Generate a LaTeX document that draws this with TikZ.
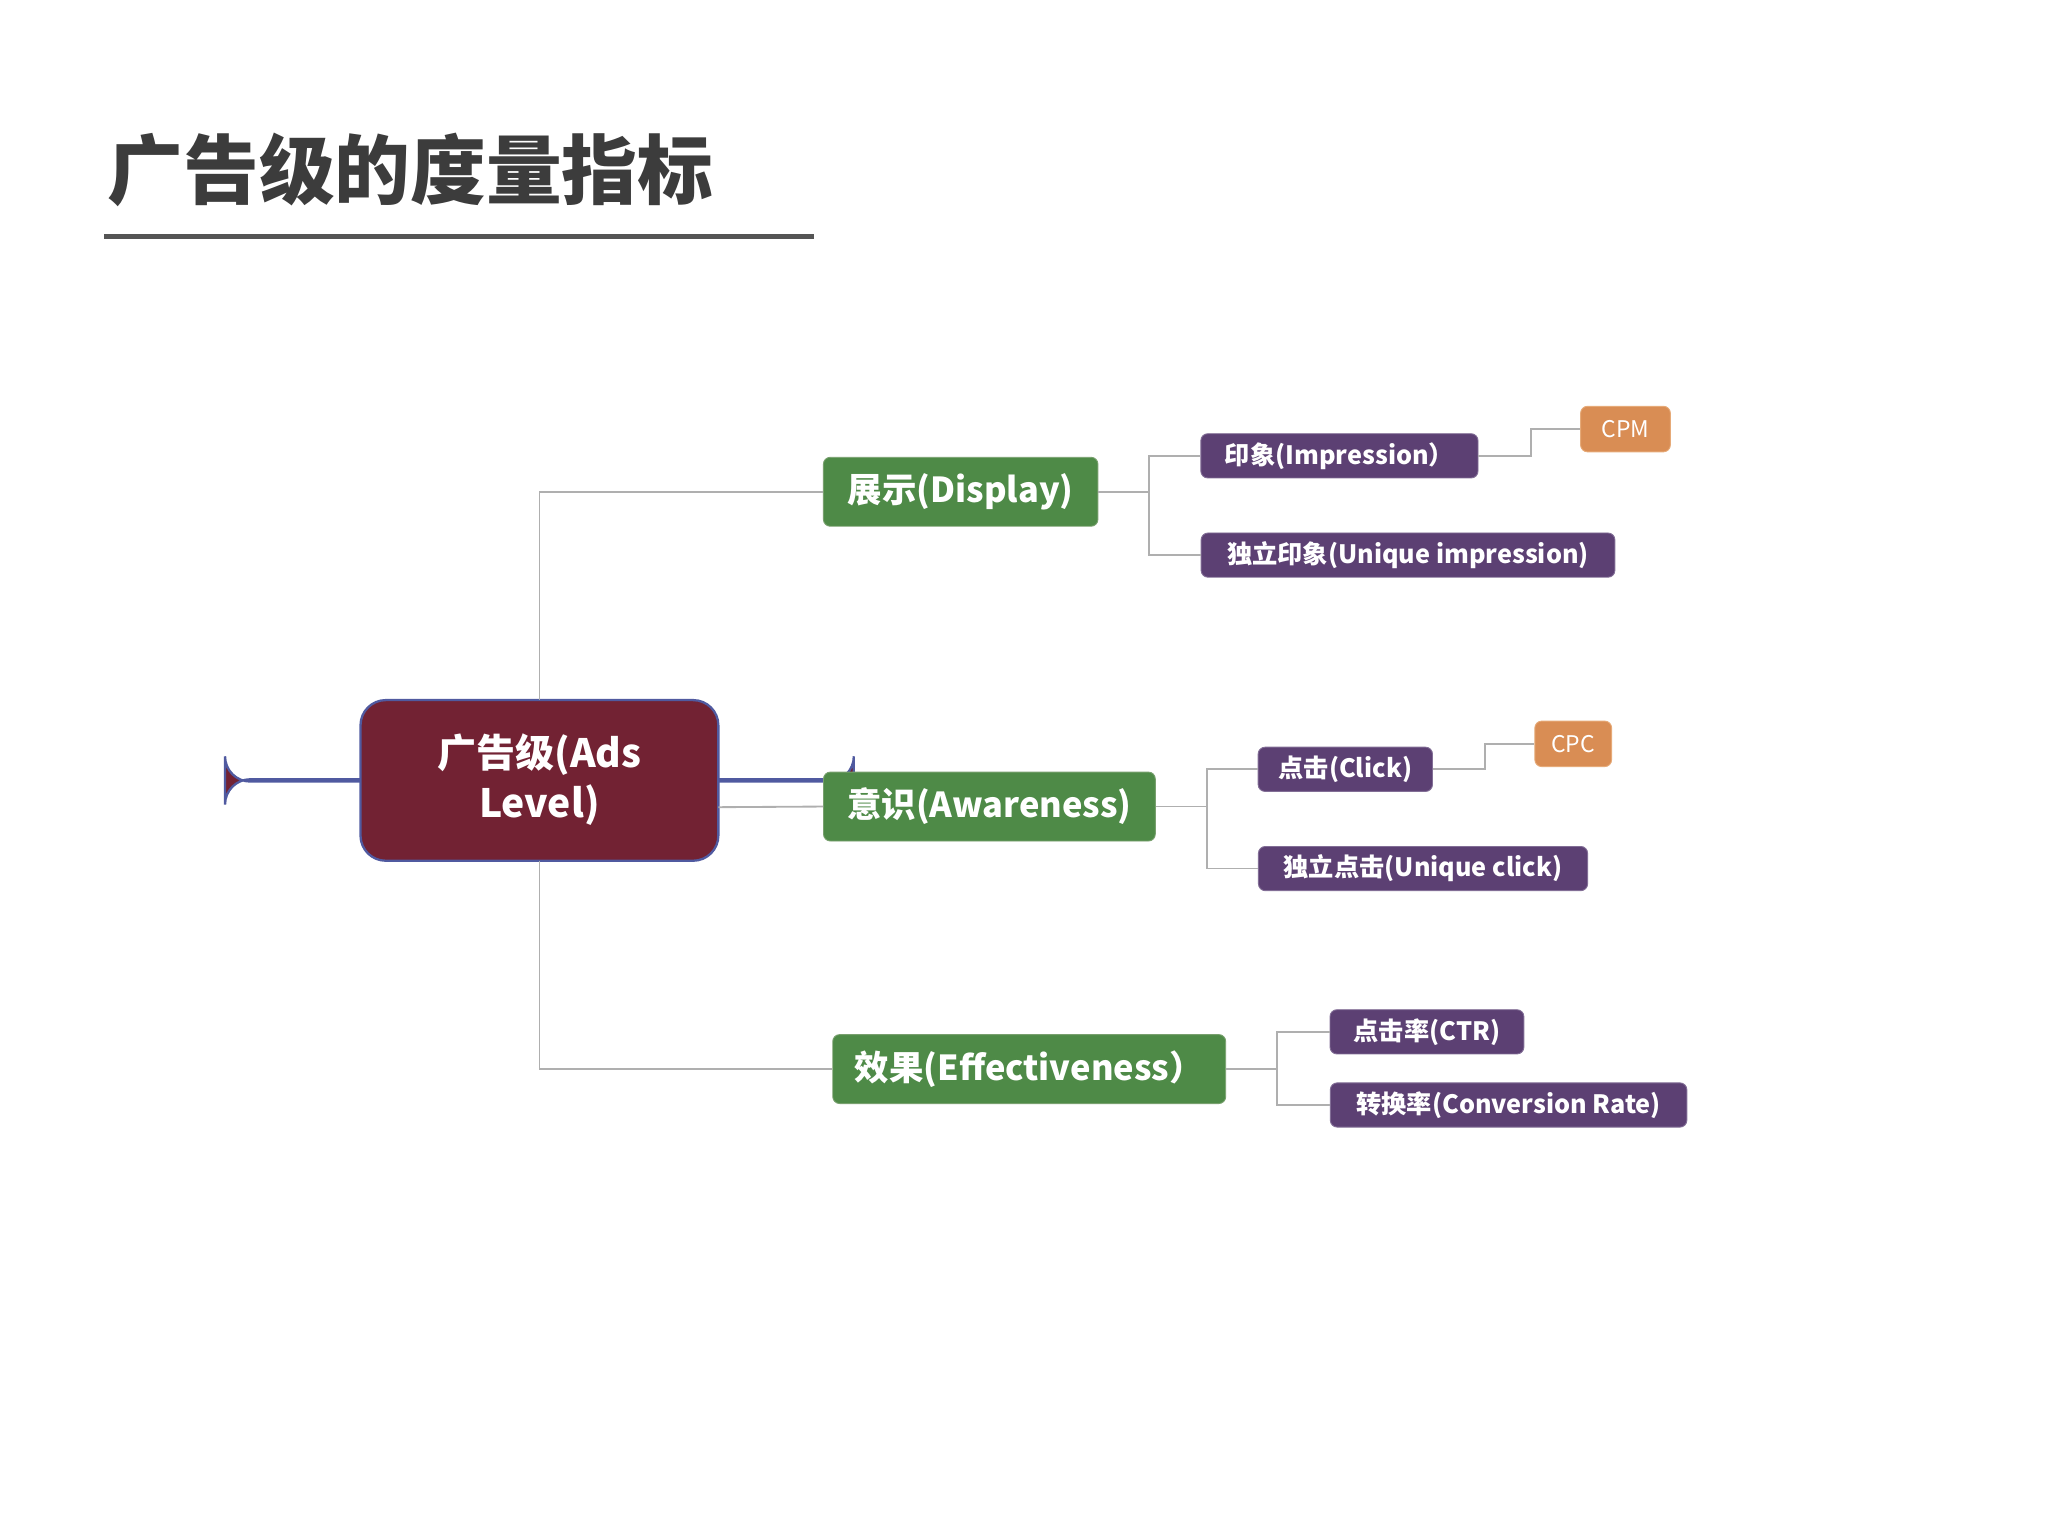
\documentclass[tikz,border=0pt]{standalone}
\usepackage{fontspec}
\setmainfont{Noto Sans CJK SC}
\begin{document}
\begin{tikzpicture}[x=0.02cm,y=-0.02cm,
  box/.style={rounded corners=3pt,text=white,inner sep=0pt,font=\bfseries},
  grn/.style={box,fill=green!40!black!70!white,fill={rgb,255:red,78;green,138;blue,71},draw={rgb,255:red,120;green,160;blue,110},font=\bfseries\fontsize{15}{18}\selectfont},
  pur/.style={box,fill={rgb,255:red,92;green,64;blue,115},draw={rgb,255:red,130;green,110;blue,150},font=\bfseries\fontsize{11}{13}\selectfont},
  org/.style={box,fill={rgb,255:red,217;green,141;blue,84},draw={rgb,255:red,230;green,170;blue,120},font=\fontsize{10}{12}\selectfont},
  ln/.style={draw={rgb,255:red,175;green,175;blue,175},line width=0.8pt}]
\useasboundingbox (0,0) rectangle (1568,1176);
\node[anchor=west,text={rgb,255:red,60;green,60;blue,60},font=\bfseries\fontsize{33}{40}\selectfont,inner sep=0pt] (title) at (82,130) {广告级的度量指标};
\draw[line width=2.3pt,draw={rgb,255:red,85;green,85;blue,85}] (80,181) -- (623,181);
\node[box,fill={rgb,255:red,114;green,34;blue,51},draw={rgb,255:red,80;green,90;blue,160},line width=1pt,rounded corners=11pt,minimum width=274\pgflinewidth,font=\bfseries\fontsize{17}{22}\selectfont,align=center] (root) at (413,597.5) {};
\path (276,536) coordinate (r1) (550,659) coordinate (r2);
\fill[rounded corners=11pt,fill={rgb,255:red,114;green,34;blue,51}] (r1) rectangle (r2);
\draw[rounded corners=11pt,draw={rgb,255:red,80;green,90;blue,160},line width=1pt] (r1) rectangle (r2);
\node[text=white,font=\bfseries\fontsize{17}{22}\selectfont,align=center] (rt) at (413,597) {广告级(Ads\\Level)};
\node[grn,minimum width=211*0.567pt,minimum height=53*0.567pt] (disp) at (735.5,376.5) {展示(Display)};
\node[grn,minimum width=255*0.567pt,minimum height=53*0.567pt] (awar) at (757.5,617.5) {意识(Awareness)};
\node[grn,minimum width=302*0.567pt,minimum height=53*0.567pt] (eff) at (788,818.5) {效果(Effectiveness）};
\node[pur,minimum width=213*0.567pt,minimum height=34*0.567pt] (imp) at (1025.5,349) {印象(Impression）};
\node[pur,minimum width=318*0.567pt,minimum height=34*0.567pt] (uimp) at (1078,425) {独立印象(Unique impression)};
\node[org,minimum width=69*0.567pt,minimum height=35*0.567pt] (cpm) at (1244.5,328.5) {CPM};
\node[pur,minimum width=134*0.567pt,minimum height=34*0.567pt] (click) at (1030,589) {点击(Click)};
\node[pur,minimum width=253*0.567pt,minimum height=34*0.567pt] (uclick) at (1089.5,665) {独立点击(Unique click)};
\node[org,minimum width=59*0.567pt,minimum height=35*0.567pt] (cpc) at (1204.5,569.5) {CPC};
\node[pur,minimum width=149*0.567pt,minimum height=34*0.567pt] (ctr) at (1092.5,790) {点击率(CTR)};
\node[pur,minimum width=274*0.567pt,minimum height=34*0.567pt] (conv) at (1155,846) {转换率(Conversion Rate)};
\draw[ln] (413,536) |- (disp.west);
\draw[ln] (550,618) -- (awar.west);
\draw[ln] (413,659) |- (eff.west);
\draw[ln] (disp.east) -- (880,376.5) |- (imp.west);
\draw[ln] (880,376.5) |- (uimp.west);
\draw[ln] (awar.east) -- (924,617.5) |- (click.west);
\draw[ln] (924,617.5) |- (uclick.west);
\draw[ln] (eff.east) -- (978,818.5) |- (ctr.west);
\draw[ln] (978,818.5) |- (conv.west);
\draw[ln] (imp.east) -- (1172,349) |- (cpm.west);
\draw[ln] (click.east) -- (1137,589) |- (cpc.west);
\end{tikzpicture}
\end{document}
